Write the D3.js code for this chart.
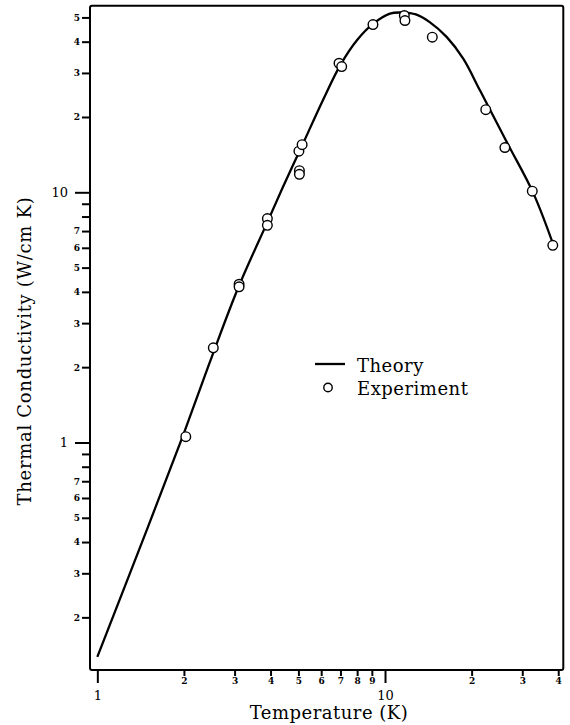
<!DOCTYPE html>
<html lang="en">
<head>
    <meta charset="UTF-8">
    <title>Thermal Conductivity</title>
    <script src="https://d3js.org/d3.v7.min.js"></script>
    <style>
        body {
            margin: 0;
            background: #fff;
        }
        .frame {
            fill: none;
            stroke: #000;
            stroke-width: 2;
        }
        .theory {
            fill: none;
            stroke: #000;
            stroke-width: 2.3;
        }
        .experiment {
            fill: #fff;
            stroke: #000;
            stroke-width: 1.4;
        }
        .tick line {
            stroke: #000;
            stroke-width: 2;
        }
        text {
            font-family: "DejaVu Serif", serif;
            fill: #000;
        }
        .minor {
            font-size: 9px;
            font-weight: bold;
        }
        .major {
            font-size: 13px;
        }
        .title {
            font-size: 18px;
            letter-spacing: 0.5px;
        }
        .legend {
            font-size: 18px;
            letter-spacing: 0.5px;
        }
    </style>
</head>
<body>
<script>
    const width = 570;
    const height = 725;
    const margin = {top: 5.7, right: 6.7, bottom: 55, left: 90};

    // theory curve
    const theoryT = [1.0, 1.5, 2.0, 2.5, 3.1, 3.9, 4.5, 5.1, 6.1, 7.0, 8.0, 9.1, 10.4, 11.5, 12.8, 14.3, 16.4, 18.7, 21.4, 26.8, 32.8, 38.9];
    const theoryK = [0.139, 0.46, 1.09, 2.2, 4.2, 7.6, 11.0, 15.0, 23.5, 32.3, 40.6, 47.2, 51.8, 52.3, 51.4, 47.9, 41.7, 34.2, 25.5, 15.5, 9.9, 5.95];

    // experimental points
    const expT = [2.03, 2.53, 3.11, 3.11, 3.9, 3.9, 5.04, 5.04, 5.02, 5.15, 6.92, 7.07, 9.08, 11.67, 11.73, 14.6, 22.4, 26.1, 32.5, 38.3];
    const expK = [1.055, 2.39, 4.29, 4.19, 7.85, 7.38, 12.2, 11.8, 14.6, 15.5, 32.8, 31.8, 46.8, 50.9, 48.6, 41.7, 21.4, 15.1, 10.1, 6.14];

    // axis ticks
    const xMajor = [1, 10];
    const xMinor = [2, 3, 4, 5, 6, 7, 8, 9, 20, 30, 40];
    const yMajor = [1, 10];
    const yMinor = [0.2, 0.3, 0.4, 0.5, 0.6, 0.7, 0.8, 0.9, 2, 3, 4, 5, 6, 7, 8, 9, 20, 30, 40, 50];
    const yUnlabeled = [0.8, 0.9, 8, 9];

    const x = d3.scaleLog().domain([0.943, 41.66]).range([margin.left, width - margin.right]);
    const y = d3.scaleLog().domain([0.1232, 55.7]).range([height - margin.bottom, margin.top]);

    const firstDigit = v => String(Math.round(v / Math.pow(10, Math.floor(Math.log10(v) + 1e-9))));

    const svg = d3.select("body").append("svg").attr("width", width).attr("height", height);

    drawAxes();
    drawData();
    drawLegend();

    function drawAxes() {
        const xAxisMajor = d3.axisBottom(x).tickValues(xMajor).tickSize(13).tickPadding(8).tickFormat(d3.format("d"));
        const xAxisMinor = d3.axisBottom(x).tickValues(xMinor).tickSize(6).tickPadding(0).tickFormat(firstDigit);

        const gx = svg.append("g").attr("transform", `translate(0,${height - margin.bottom})`);
        gx.append("g").call(xAxisMajor).call(g => g.selectAll("text").attr("class", "major"));
        gx.append("g").call(xAxisMinor).call(g => g.selectAll("text").attr("class", "minor").attr("dy", "0.9em"));
        gx.selectAll(".domain").remove();

        const yAxisMajor = d3.axisLeft(y).tickValues(yMajor).tickSize(15).tickPadding(7).tickFormat(d3.format("d"));
        const yAxisMinor = d3.axisLeft(y).tickValues(yMinor).tickSize(8).tickPadding(2)
            .tickFormat(d => yUnlabeled.includes(d) ? "" : firstDigit(d));

        const gy = svg.append("g").attr("transform", `translate(${margin.left},0)`);
        gy.append("g").call(yAxisMajor).call(g => g.selectAll("text").attr("class", "major"));
        gy.append("g").call(yAxisMinor).call(g => g.selectAll("text").attr("class", "minor"));
        gy.selectAll(".domain").remove();
        svg.selectAll(".tick text").attr("font-family", null).attr("font-size", null);

        svg.append("rect")
            .attr("class", "frame")
            .attr("x", margin.left)
            .attr("y", margin.top)
            .attr("width", width - margin.left - margin.right)
            .attr("height", height - margin.top - margin.bottom)
            .attr("rx", 2);

        svg.append("text")
            .attr("class", "title")
            .attr("x", 329)
            .attr("y", 719)
            .attr("text-anchor", "middle")
            .text("Temperature (K)");

        svg.append("text")
            .attr("class", "title")
            .attr("transform", `translate(31,351) rotate(-90)`)
            .attr("text-anchor", "middle")
            .style("letter-spacing", "0.7px")
            .text("Thermal Conductivity (W/cm K)");
    }

    function drawData() {
        const line = d3.line()
            .x(i => x(theoryT[i]))
            .y(i => y(theoryK[i]))
            .curve(d3.curveCatmullRom.alpha(0.5));

        svg.append("path")
            .attr("class", "theory")
            .attr("d", line(d3.range(theoryT.length)));

        svg.append("g").selectAll("circle")
            .data(d3.range(expT.length))
            .enter()
            .append("circle")
            .attr("class", "experiment")
            .attr("cx", i => x(expT[i]))
            .attr("cy", i => y(expK[i]))
            .attr("r", 4.8);
    }

    function drawLegend() {
        const g = svg.append("g").attr("transform", "translate(315,364)");
        g.append("line").attr("x1", 0).attr("x2", 30).attr("y1", 0).attr("y2", 0)
            .attr("stroke", "#000").attr("stroke-width", 2.3);
        g.append("circle").attr("class", "experiment").attr("cx", 13).attr("cy", 23.5).attr("r", 4.2);
        g.append("text").attr("class", "legend").attr("x", 42).attr("y", 7.5).text("Theory");
        g.append("text").attr("class", "legend").attr("x", 42).attr("y", 31).text("Experiment");
    }
</script>
</body>
</html>
